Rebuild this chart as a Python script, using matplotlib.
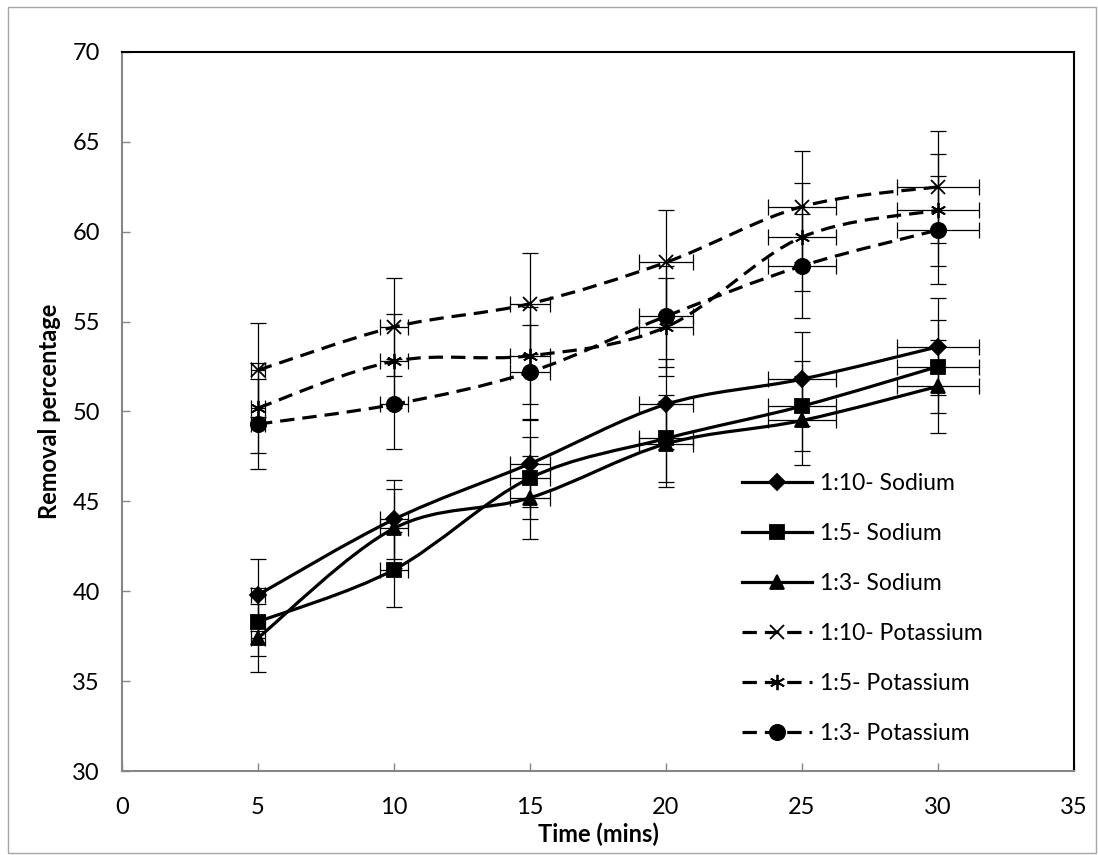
import matplotlib
matplotlib.use("Agg")
import matplotlib.pyplot as plt
import numpy as np
from matplotlib.path import Path
from matplotlib.patches import PathPatch, Rectangle
from matplotlib.lines import Line2D

plt.rcParams['font.family'] = ['Lato', 'DejaVu Sans']

# time points (mins) and their horizontal error
time = [5, 10, 15, 20, 25, 30]
time_err = [0.25, 0.5, 0.75, 1.0, 1.25, 1.5]

# removal percentage per series
na_1_10 = [39.8, 44.0, 47.1, 50.4, 51.8, 53.6]
na_1_5 = [38.3, 41.2, 46.3, 48.5, 50.3, 52.5]
na_1_3 = [37.4, 43.5, 45.2, 48.2, 49.5, 51.4]
k_1_10 = [52.3, 54.7, 56.0, 58.3, 61.4, 62.5]
k_1_5 = [50.2, 52.8, 53.1, 54.7, 59.7, 61.2]
k_1_3 = [49.3, 50.4, 52.2, 55.3, 58.1, 60.1]

# vertical error bars
na_1_10_err = [2.0, 2.2, 2.4, 2.5, 2.6, 2.7]
na_1_5_err = [1.9, 2.1, 2.3, 2.4, 2.5, 2.6]
na_1_3_err = [1.9, 2.2, 2.3, 2.4, 2.5, 2.6]
k_1_10_err = [2.6, 2.7, 2.8, 2.9, 3.1, 3.1]
k_1_5_err = [2.5, 2.6, 2.7, 2.7, 3.0, 3.1]
k_1_3_err = [2.5, 2.5, 2.6, 2.8, 2.9, 3.0]

labels = ['1:10- Sodium', '1:5- Sodium', '1:3- Sodium',
          '1:10- Potassium', '1:5- Potassium', '1:3- Potassium']
series = [na_1_10, na_1_5, na_1_3, k_1_10, k_1_5, k_1_3]
errors = [na_1_10_err, na_1_5_err, na_1_3_err, k_1_10_err, k_1_5_err, k_1_3_err]
markers = ['D', 's', '^', 'x', (6, 2, 0), 'o']
msizes = [8, 10, 10, 10, 11, 11]
dashed = (0, (4.5, 2.5))
styles = ['-', '-', '-', dashed, dashed, dashed]


def smooth_path(x, y):
    # Excel-style smoothed line: cubic bezier through the points
    pts = np.column_stack([x, y]).astype(float)
    n = len(pts)
    verts = [pts[0]]
    codes = [Path.MOVETO]
    for i in range(n - 1):
        p0 = pts[i - 1] if i > 0 else pts[i]
        p1 = pts[i]
        p2 = pts[i + 1]
        p3 = pts[i + 2] if i + 2 < n else pts[i + 1]
        verts += [p1 + (p2 - p0) / 6, p2 - (p3 - p1) / 6, p2]
        codes += [Path.CURVE4] * 3
    return Path(verts, codes)


fig = plt.figure(figsize=(10.98, 8.55), dpi=100)
ax = fig.add_axes([122 / 1098, 84 / 855, 952 / 1098, 719 / 855])

# chart area border
fig.patches.append(Rectangle((8 / 1098, 2 / 855), 1088 / 1098, 846 / 855,
                             transform=fig.transFigure, fill=False,
                             edgecolor='#a6a6a6', linewidth=1))

handles = []
for y, yerr, m, ms, ls, lab in zip(series, errors, markers, msizes, styles, labels):
    ax.errorbar(time, y, yerr=yerr, xerr=time_err, fmt='none', ecolor='black',
                elinewidth=0.9, capsize=6, capthick=0.9, zorder=2)
    ax.add_patch(PathPatch(smooth_path(time, y), fill=False, edgecolor='black',
                           linewidth=2.3, linestyle=ls, zorder=3))
    ax.plot(time, y, linestyle='none', marker=m, markersize=ms, color='black',
            markeredgewidth=1.3, zorder=4)
    handles.append(Line2D([], [], color='black', linewidth=2.3, linestyle=ls,
                          marker=m, markersize=ms, markeredgewidth=1.3))

ax.set_xlim(0, 35)
ax.set_ylim(30, 70)
ax.set_xticks(range(0, 36, 5))
ax.set_yticks(range(30, 71, 5))
ax.tick_params(direction='in', length=6, width=1, color='#868686',
               labelsize=17, pad=16)
ax.tick_params(axis='x', pad=19)
for s in ['left', 'bottom']:
    ax.spines[s].set_color('#868686')
    ax.spines[s].set_linewidth(1.5)
for s in ['top', 'right']:
    ax.spines[s].set_color('black')
    ax.spines[s].set_linewidth(1.5)

ax.set_xlabel('Time (mins)', fontsize=17, fontweight='bold', labelpad=3)
ax.set_ylabel('Removal percentage', fontsize=17, fontweight='bold', labelpad=8)

ax.legend(handles, labels, loc='upper left', bbox_to_anchor=(0.639, 0.43),
          frameon=False, fontsize=16.5, handlelength=3.05, handletextpad=0.35,
          labelspacing=1.26, borderpad=0)

fig.savefig('out.png', dpi=100)
